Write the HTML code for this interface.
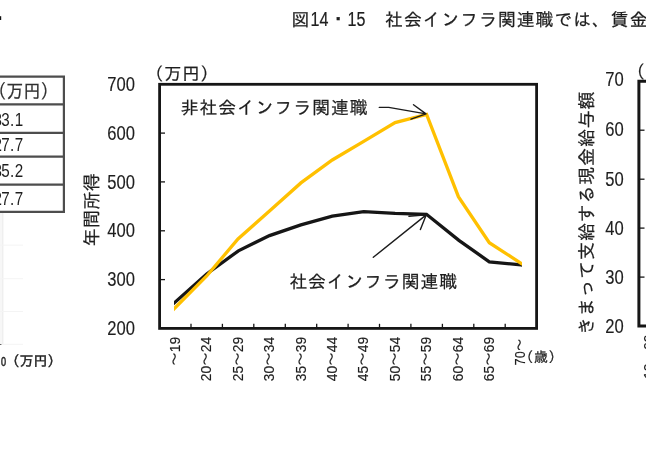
<!DOCTYPE html>
<html lang="ja"><head><meta charset="utf-8"><title>図14・15</title>
<style>html,body{margin:0;padding:0;background:#fff}body{width:646px;height:450px;overflow:hidden}svg{display:block}text{font-family:"Liberation Sans", "IPAGothic", sans-serif;fill:#1e1e1e}.b{stroke:#1e1e1e;stroke-width:.22px}.n{stroke:#1e1e1e;stroke-width:.15px}</style>
</head><body>
<svg width="646" height="450" viewBox="0 0 646 450">
<rect width="646" height="450" fill="#fff"/>
<rect x="0" y="16.2" width="1.2" height="3.8" fill="#111"/>
<g class="b" font-size="17.8">
<text x="291.6" y="25.8">図</text>
<text transform="translate(310.6 25.7) scale(0.8 1)" font-size="20.1">14</text>
<text x="326.9" y="27.3" font-size="22">・</text>
<text transform="translate(347.6 25.7) scale(0.8 1)" font-size="20.1">15</text>
<text x="385.1" y="25.8" letter-spacing="1.03">社会インフラ関連職では、賃金</text>
</g>
<g stroke="#4d4d4d" stroke-width="2.2" fill="none">
<path d="M0 76.6H63.9V211.9H0"/>
<path d="M0 104.3H63.9"/>
<path d="M0 132.8H63.9"/>
<path d="M0 156.6H63.9"/>
<path d="M0 184.6H63.9"/>
</g>
<text transform="translate(-10.8 98.2) scale(0.9 1)" font-size="19" style="fill:#303030;stroke:#303030;stroke-width:.25px">（万円）</text>
<g font-size="19" style="fill:#585858" text-anchor="end" letter-spacing="0.6">
<text transform="translate(23.7 125.6) scale(0.8 1)">3<tspan dx="-1.5">3.1</tspan></text>
<text transform="translate(23.7 150.7) scale(0.8 1)">2<tspan dx="-1.5">7.7</tspan></text>
<text transform="translate(23.7 177.4) scale(0.8 1)">3<tspan dx="-1.5">5.2</tspan></text>
<text transform="translate(23.7 205.0) scale(0.8 1)">2<tspan dx="-1.5">7.7</tspan></text>
</g>
<rect x="0" y="213" width="3.4" height="131" fill="#f7f7f7"/>
<rect x="2.3" y="213" width="0.9" height="131" fill="#ececec"/>
<rect x="0" y="244.6" width="23" height="1" fill="#f4f4f4"/>
<rect x="0" y="278.2" width="23" height="1" fill="#f4f4f4"/>
<rect x="0" y="311.0" width="23" height="1" fill="#f4f4f4"/>
<rect x="0" y="343.8" width="23" height="1" fill="#f4f4f4"/>
<rect x="0" y="344" width="1.4" height="1" fill="#666"/>
<text transform="translate(1 365.8) scale(0.73 1)" font-size="12.5" style="stroke:#1e1e1e;stroke-width:.5px">0</text>
<text x="5.6" y="366.2" font-size="14" style="stroke:#1e1e1e;stroke-width:.45px">（万円）</text>
<rect x="159.6" y="84.3" width="377.0" height="244.1" fill="none" stroke="#161616" stroke-width="2.8"/>
<g stroke="#161616" stroke-width="1.3">
<path d="M159.6 279.6H165.0"/>
<path d="M159.6 230.8H165.0"/>
<path d="M159.6 181.9H165.0"/>
<path d="M159.6 133.1H165.0"/>
<path d="M191.0 328.4V323.8"/>
<path d="M222.4 328.4V323.8"/>
<path d="M253.8 328.4V323.8"/>
<path d="M285.3 328.4V323.8"/>
<path d="M316.7 328.4V323.8"/>
<path d="M348.1 328.4V323.8"/>
<path d="M379.5 328.4V323.8"/>
<path d="M410.9 328.4V323.8"/>
<path d="M442.4 328.4V323.8"/>
<path d="M473.8 328.4V323.8"/>
<path d="M505.2 328.4V323.8"/>
</g>
<text class="n" transform="translate(135.0 335.0) scale(0.83 1)" text-anchor="end" font-size="20">200</text>
<text class="n" transform="translate(135.0 286.2) scale(0.83 1)" text-anchor="end" font-size="20">300</text>
<text class="n" transform="translate(135.0 237.4) scale(0.83 1)" text-anchor="end" font-size="20">400</text>
<text class="n" transform="translate(135.0 188.5) scale(0.83 1)" text-anchor="end" font-size="20">500</text>
<text class="n" transform="translate(135.0 139.7) scale(0.83 1)" text-anchor="end" font-size="20">600</text>
<text class="n" transform="translate(135.0 90.9) scale(0.83 1)" text-anchor="end" font-size="20">700</text>
<text class="b" x="146" y="79.5" font-size="17.5" letter-spacing="0.6">（万円）</text>
<text class="b" transform="translate(97.6 246.4) rotate(-90)" font-size="18" letter-spacing="0.4">年間所得</text>
<text class="b" x="180.7" y="113.7" font-size="17.8" letter-spacing="1.0">非社会インフラ関連職</text>
<text class="b" x="289.4" y="287.6" font-size="17.8" letter-spacing="0.95">社会インフラ関連職</text>
<clipPath id="lc"><rect x="173.9" y="80" width="348" height="250"/></clipPath>
<g clip-path="url(#lc)" fill="none" stroke-width="3.3" stroke-linejoin="miter" stroke-linecap="butt">
<polyline points="170.6,306.2 174.6,302.6 206.7,274.0 238.4,250.8 269.5,235.6 300.9,224.9 332.3,216.2 363.7,211.6 395.1,213.3 426.5,214.3 458.9,240.4 489.3,261.8 521.1,264.9 525.1,265.3" stroke="#161616"/>
<polyline points="170.6,312.3 174.6,308.3 206.7,276.0 238.0,238.9 269.5,211.1 300.9,182.9 332.3,160.0 363.7,141.3 395.1,122.6 426.6,114.4 458.4,196.7 489.3,242.7 521.1,263.3 525.1,265.9" stroke="#ffc000"/>
</g>
<g fill="none" stroke="#1c1c1c" stroke-width="1.4" stroke-linecap="round" stroke-linejoin="round">
<path d="M379.3 107.4H388.7L426 113.9M413.5 104.7L426 113.9L411 119.2"/>
<path d="M373.3 257.3L426.2 214.9M408.9 216.2L426.2 214.9L420.4 229.6"/>
</g>
<text class="n" transform="translate(179.8 336.8) rotate(-90) scale(0.89 1)" text-anchor="end" font-size="15.5">～19</text>
<text class="n" transform="translate(211.2 336.8) rotate(-90) scale(0.89 1)" text-anchor="end" font-size="15.5">20～24</text>
<text class="n" transform="translate(242.6 336.8) rotate(-90) scale(0.89 1)" text-anchor="end" font-size="15.5">25～29</text>
<text class="n" transform="translate(274.1 336.8) rotate(-90) scale(0.89 1)" text-anchor="end" font-size="15.5">30～34</text>
<text class="n" transform="translate(305.5 336.8) rotate(-90) scale(0.89 1)" text-anchor="end" font-size="15.5">35～39</text>
<text class="n" transform="translate(336.9 336.8) rotate(-90) scale(0.89 1)" text-anchor="end" font-size="15.5">40～44</text>
<text class="n" transform="translate(368.3 336.8) rotate(-90) scale(0.89 1)" text-anchor="end" font-size="15.5">45～49</text>
<text class="n" transform="translate(399.7 336.8) rotate(-90) scale(0.89 1)" text-anchor="end" font-size="15.5">50～54</text>
<text class="n" transform="translate(431.1 336.8) rotate(-90) scale(0.89 1)" text-anchor="end" font-size="15.5">55～59</text>
<text class="n" transform="translate(462.6 336.8) rotate(-90) scale(0.89 1)" text-anchor="end" font-size="15.5">60～64</text>
<text class="n" transform="translate(494.0 336.8) rotate(-90) scale(0.89 1)" text-anchor="end" font-size="15.5">65～69</text>
<text class="n" transform="translate(524.9 338.6) rotate(-90) scale(0.82 1)" text-anchor="end" font-size="15.5">70～</text>
<text class="b" x="519.3" y="361.7" font-size="14" letter-spacing="0.6">（歳）</text>
<path d="M660 81.3H638.9V326.0H660" fill="none" stroke="#161616" stroke-width="3"/>
<g stroke="#161616" stroke-width="1.3">
<path d="M638.9 277.1H644.5"/>
<path d="M638.9 228.1H644.5"/>
<path d="M638.9 179.2H644.5"/>
<path d="M638.9 130.2H644.5"/>
</g>
<text class="n" transform="translate(623.7 333.2) scale(0.83 1)" text-anchor="end" font-size="20">20</text>
<text class="n" transform="translate(623.7 284.3) scale(0.83 1)" text-anchor="end" font-size="20">30</text>
<text class="n" transform="translate(623.7 235.3) scale(0.83 1)" text-anchor="end" font-size="20">40</text>
<text class="n" transform="translate(623.7 185.8) scale(0.83 1)" text-anchor="end" font-size="20">50</text>
<text class="n" transform="translate(623.7 135.6) scale(0.83 1)" text-anchor="end" font-size="20">60</text>
<text class="n" transform="translate(623.7 86.2) scale(0.83 1)" text-anchor="end" font-size="20">70</text>
<text class="b" transform="translate(593.2 335.1) rotate(-90)" font-size="18" letter-spacing="0.8">きまって支給する現金給与額</text>
<text class="b" x="627.6" y="78.1" font-size="17.5" letter-spacing="0.6">（万円）</text>
<text class="n" transform="translate(653.6 334.5) rotate(-90) scale(0.89 1)" text-anchor="end" font-size="15.5">10～99</text>
</svg>
</body></html>
